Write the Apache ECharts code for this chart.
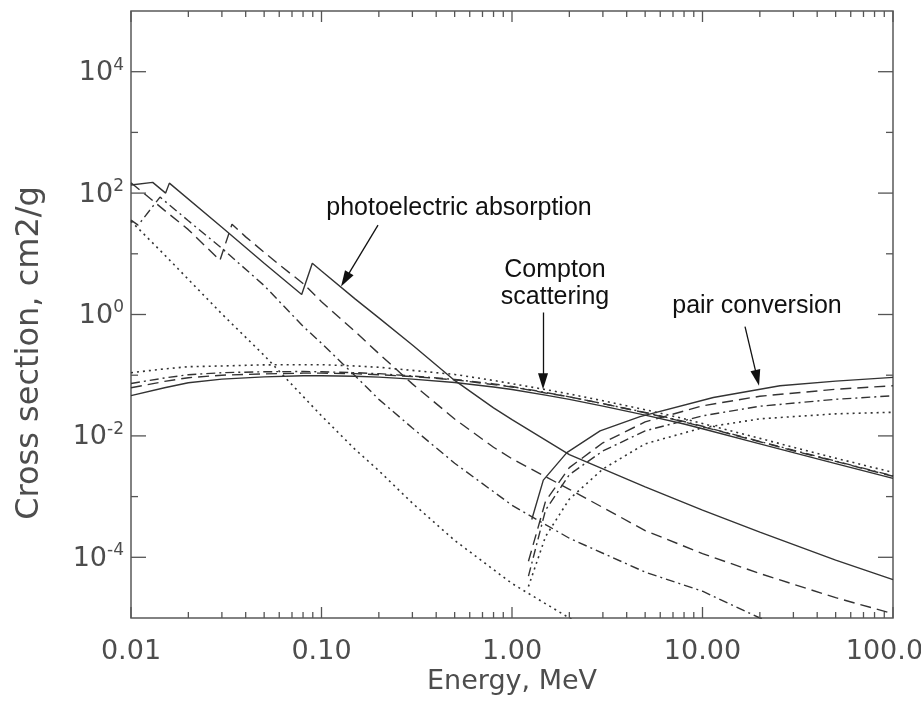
<!DOCTYPE html>
<html><head><meta charset="utf-8">
<script src="https://cdn.jsdelivr.net/npm/echarts@6/dist/echarts.min.js"></script>
<style>html,body{margin:0;padding:0;background:#fff}#c{width:921px;height:704px}</style>
</head><body><div id="c"></div>
<script>
// ---------- data ----------
const comptonEnergy = [0.01,0.015,0.02,0.03,0.05,0.08,0.1,0.15,0.2,0.3,0.5,0.8,1,1.5,2,3,5,8,10,20,30,50,100];
const comptonLead = [0.046,0.062,0.075,0.086,0.094,0.098,0.098,0.096,0.093,0.086,0.076,0.064,0.058,0.047,0.040,0.031,0.022,0.0157,0.0131,0.0074,0.0053,0.0035,0.0020];
const comptonNaI  = [0.062,0.079,0.091,0.100,0.105,0.108,0.108,0.106,0.102,0.095,0.084,0.070,0.064,0.051,0.044,0.034,0.024,0.0170,0.0142,0.0080,0.0057,0.0038,0.00216];
const comptonGe   = [0.073,0.090,0.102,0.110,0.114,0.115,0.114,0.110,0.106,0.097,0.085,0.072,0.065,0.052,0.044,0.034,0.0244,0.0173,0.0144,0.0081,0.0058,0.00385,0.0022];
const comptonSi   = [0.110,0.127,0.138,0.142,0.148,0.149,0.149,0.142,0.135,0.120,0.103,0.082,0.0725,0.058,0.049,0.038,0.027,0.0192,0.0160,0.0091,0.0065,0.0043,0.0025];

const photoLead = [[0.0100,136],[0.0130,150],[0.0152,100],[0.0159,146],[0.030,27.4],[0.050,7.0],[0.0787,2.14],[0.0895,7.0],[0.10,5.2],[0.15,1.81],[0.20,0.88],[0.30,0.315],[0.50,0.082],[0.80,0.029],[1.0,0.0185],[2.0,0.0049],[5.0,0.00145],[10,6.0e-4],[20,2.6e-4],[50,9.0e-5],[100,4.3e-5]];
const photoNaI = [[0.010,148],[0.015,52],[0.020,25],[0.0293,7.8],[0.0339,30.7],[0.040,19.0],[0.050,10.6],[0.060,6.6],[0.080,3.25],[0.10,1.62],[0.15,0.524],[0.20,0.227],[0.30,0.072],[0.50,0.019],[0.80,0.0065],[1.0,0.0042],[2.0,0.00132],[5.0,2.76e-4],[10,1.15e-4],[20,5.4e-5],[50,2.16e-5],[100,1.18e-5]];
const photoGe = [[0.010,35.8],[0.0109,29.6],[0.0142,86],[0.020,35],[0.030,12.3],[0.050,3.0],[0.080,0.64],[0.10,0.336],[0.15,0.098],[0.20,0.040],[0.30,0.0135],[0.50,0.00355],[1.0,7.2e-4],[2.0,2.06e-4],[5.0,5.7e-5],[10,2.76e-5],[20,1.0e-5],[50,3.8e-6],[100,1.8e-6]];
const photoSi = [[0.010,34.5],[0.015,9.6],[0.020,3.79],[0.030,1.02],[0.050,0.212],[0.080,0.0448],[0.10,0.0214],[0.15,0.0060],[0.20,0.00267],[0.30,7.8e-4],[0.50,1.9e-4],[1.0,3.7e-5],[2.0,1.0e-5],[3.0,5.0e-6]];

const pairLead = [[1.27,4.2e-4],[1.46,1.87e-3],[1.94,5.3e-3],[2.9,0.0121],[4.7,0.0208],[11.4,0.043],[25.5,0.067],[50,0.080],[100,0.092]];
const pairNaI  = [[1.22,8.6e-5],[1.5,8.4e-4],[2,3.0e-3],[3,7.7e-3],[5,0.017],[10,0.0313],[20,0.045],[50,0.0587],[100,0.067]];
const pairGe   = [[1.22,4.9e-5],[1.5,6.0e-4],[2,2.3e-3],[3,5.65e-3],[5,0.0121],[10,0.0214],[20,0.0308],[50,0.0401],[100,0.0458]];
const pairSi   = [[1.22,3.3e-5],[1.5,2.2e-4],[2,9.1e-4],[3,2.85e-3],[5,7.4e-3],[10,0.0136],[20,0.0191],[50,0.0231],[100,0.0245]];

const xTickLabels = ['0.01','0.10','1.00','10.00','100.00'];
const xMajorTicks = [0.01,0.1,1,10,100];
const xMinorTicks = [0.02,0.03,0.04,0.05,0.06,0.07,0.08,0.09,0.2,0.3,0.4,0.5,0.6,0.7,0.8,0.9,2,3,4,5,6,7,8,9,20,30,40,50,60,70,80,90];
const yMajorTicks = [1e-4,1e-2,1,1e2,1e4];
const yMinorTicks = [1e-3,1e-1,1e1,1e3];
const yLabelExponents = ['-4','-2','0','2','4'];

// annotation arrows (data coordinates: start, end)
const arrowPhoto   = [[0.198,29.6],[0.1331,3.76]];
const arrowCompton = [[1.455,1.079],[1.455,0.0796]];
const arrowPair    = [[16.72,0.633],[19.37,0.0902]];

// ---------- chart ----------
const X_MIN = 0.01, X_MAX = 100, Y_MIN = 1e-5, Y_MAX = 1e5;
const INK = '#333';
const AXIS_FONT = "'DejaVu Sans', sans-serif";
const STYLES = {
  solid: 'solid',
  dashed: [11, 6],
  dashdot: [9, 4, 2, 4],
  dotted: [2, 4]
};

function curve(name, data, dash, extra) {
  return Object.assign({
    type: 'line', name: name, data: data,
    showSymbol: false, symbol: 'none', clip: true, silent: true,
    lineStyle: { color: INK, width: dash === 'dotted' ? 1.6 : 1.4, type: STYLES[dash], cap: 'butt' },
    z: 3
  }, extra || {});
}
const withE = arr => comptonEnergy.map((e, i) => [e, arr[i]]);

const arrowLine = a => [{ coord: a[0], symbol: 'none' }, { coord: a[1], symbol: 'triangle', symbolSize: [10, 16] }];

const series = [
  curve('photo Pb', photoLead, 'solid', {
    markLine: {
      silent: true, animation: false,
      symbol: ['none', 'triangle'],
      lineStyle: { type: 'solid', color: '#111', width: 1.3 },
      itemStyle: { color: '#111' },
      label: { show: false },
      emphasis: { disabled: true },
      data: [arrowLine(arrowPhoto), arrowLine(arrowCompton), arrowLine(arrowPair)]
    }
  }),
  curve('photo NaI', photoNaI, 'dashed'),
  curve('photo Ge', photoGe, 'dashdot'),
  curve('photo Si', photoSi, 'dotted'),
  curve('compton Pb', withE(comptonLead), 'solid'),
  curve('compton NaI', withE(comptonNaI), 'dashed'),
  curve('compton Ge', withE(comptonGe), 'dashdot'),
  curve('compton Si', withE(comptonSi), 'dotted'),
  curve('pair Pb', pairLead, 'solid'),
  curve('pair NaI', pairNaI, 'dashed'),
  curve('pair Ge', pairGe, 'dashdot'),
  curve('pair Si', pairSi, 'dotted'),
  {
    type: 'custom', name: 'xticks', silent: true, z: 5, clip: false,
    data: xMajorTicks.map(v => [v, 1, 1]).concat(xMinorTicks.map(v => [v, 1, 0])),
    renderItem: function (params, api) {
      const e = api.value(0), major = api.value(2) === 1;
      const b = api.coord([e, Y_MIN]), t = api.coord([e, Y_MAX]);
      const len = major ? 11 : 6;
      const st = { stroke: '#555', lineWidth: 1.3 };
      return { type: 'group', children: [
        { type: 'line', shape: { x1: b[0], y1: b[1], x2: b[0], y2: b[1] - len }, style: st },
        { type: 'line', shape: { x1: t[0], y1: t[1], x2: t[0], y2: t[1] + len }, style: st }
      ]};
    }
  },
  {
    type: 'custom', name: 'yticks', silent: true, z: 5, clip: false,
    data: yMajorTicks.map(v => [1, v, 1]).concat(yMinorTicks.map(v => [1, v, 0])),
    renderItem: function (params, api) {
      const v = api.value(1), major = api.value(2) === 1;
      const l = api.coord([X_MIN, v]), r = api.coord([X_MAX, v]);
      const len = major ? 15 : 7;
      const st = { stroke: '#555', lineWidth: 1.3 };
      return { type: 'group', children: [
        { type: 'line', shape: { x1: l[0], y1: l[1], x2: l[0] + len, y2: l[1] }, style: st },
        { type: 'line', shape: { x1: r[0], y1: r[1], x2: r[0] - len, y2: r[1] }, style: st }
      ]};
    }
  }
];

const chart = echarts.init(document.getElementById('c'), null, { renderer: 'canvas' });
chart.setOption({
  animation: false,
  backgroundColor: '#fff',
  grid: { left: 131, right: 28, top: 11, bottom: 86, containLabel: false, outerBoundsMode: 'none',
          show: true, borderColor: '#5a5a5a', borderWidth: 1.5, backgroundColor: 'transparent' },
  xAxis: {
    type: 'log', logBase: 10, min: X_MIN, max: X_MAX, interval: 1,
    axisLine: { show: false }, axisTick: { show: false }, splitLine: { show: false }, minorTick: { show: false },
    axisLabel: {
      margin: 20, color: '#4d4d4d', fontFamily: AXIS_FONT, fontSize: 27,
      formatter: function (v) {
        const i = Math.round(Math.log10(v)) + 2;
        return xTickLabels[i] !== undefined ? xTickLabels[i] : '';
      }
    }
  },
  yAxis: {
    type: 'log', logBase: 10, min: Y_MIN, max: Y_MAX, interval: 1, splitNumber: 10,
    axisLine: { show: false }, axisTick: { show: false }, splitLine: { show: false }, minorTick: { show: false },
    axisLabel: {
      margin: 7, color: '#4d4d4d', fontFamily: AXIS_FONT, showMinLabel: true, showMaxLabel: true,
      formatter: function (v) {
        const e = String(Math.round(Math.log10(v)));
        if (yLabelExponents.indexOf(e) < 0) return '';
        return '{b|10}{s|' + e + '}';
      },
      rich: {
        b: { fontSize: 27, fontFamily: AXIS_FONT, color: '#4d4d4d', lineHeight: 30, verticalAlign: 'bottom' },
        s: { fontSize: 17, fontFamily: AXIS_FONT, color: '#4d4d4d', lineHeight: 12, verticalAlign: 'top' }
      }
    }
  },
  series: series,
  graphic: [
    { type: 'text', x: 30, y: 353, rotation: Math.PI / 2, silent: true,
      style: { text: 'Cross section, cm2/g', fill: '#4d4d4d', font: "32px 'DejaVu Sans', sans-serif", textAlign: 'center', textVerticalAlign: 'middle' } },
    { type: 'text', x: 512, y: 682, silent: true,
      style: { text: 'Energy, MeV', fill: '#4d4d4d', font: "27px 'DejaVu Sans', sans-serif", textAlign: 'center', textVerticalAlign: 'middle' } },
    { type: 'text', x: 459, y: 208, silent: true,
      style: { text: 'photoelectric absorption', fill: '#111', font: "25px 'Liberation Sans', Arial, sans-serif", textAlign: 'center', textVerticalAlign: 'middle' } },
    { type: 'text', x: 555, y: 270, silent: true,
      style: { text: 'Compton', fill: '#111', font: "25px 'Liberation Sans', Arial, sans-serif", textAlign: 'center', textVerticalAlign: 'middle' } },
    { type: 'text', x: 555, y: 297, silent: true,
      style: { text: 'scattering', fill: '#111', font: "25px 'Liberation Sans', Arial, sans-serif", textAlign: 'center', textVerticalAlign: 'middle' } },
    { type: 'text', x: 757, y: 306, silent: true,
      style: { text: 'pair conversion', fill: '#111', font: "25px 'Liberation Sans', Arial, sans-serif", textAlign: 'center', textVerticalAlign: 'middle' } }
  ]
});
</script>
</body></html>
